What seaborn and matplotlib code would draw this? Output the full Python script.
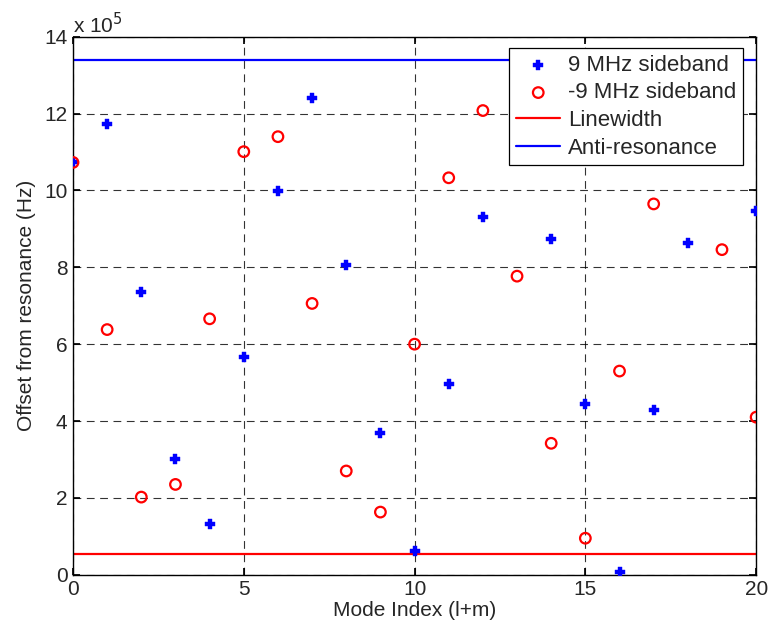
import numpy as np
import pandas as pd
import seaborn as sns
import matplotlib.pyplot as plt
from matplotlib.ticker import FuncFormatter

# values (Hz); points hidden by the legend are left out
mode_plus = [0, 1, 2, 3, 4, 5, 6, 7, 8, 9, 10, 11, 12, 14, 15, 16, 17, 18, 20]
offset_plus = [1073000, 1173000, 737000, 302000, 133000, 566000, 999000, 1241000,
               806000, 370000, 62000, 496000, 932000, 875000, 443000, 8000,
               429000, 863000, 946000]

mode_minus = [0, 1, 2, 3, 4, 5, 6, 7, 8, 9, 10, 11, 12, 13, 14, 15, 16, 17, 19, 20]
offset_minus = [1073000, 638000, 202000, 235000, 666000, 1101000, 1140000, 706000,
                270000, 163000, 600000, 1033000, 1208000, 777000, 342000, 95000,
                530000, 965000, 846000, 410000]

linewidth_hz = 53000
anti_resonance_hz = 1339000

plus = pd.DataFrame({'mode': mode_plus, 'offset': offset_plus})
minus = pd.DataFrame({'mode': mode_minus, 'offset': offset_minus})

fs = 15

sns.set_theme(style='white')
plt.rcParams['font.family'] = ['Liberation Sans', 'DejaVu Sans']
plt.rcParams['font.size'] = fs

fig = plt.figure(figsize=(7.7, 6.34), dpi=100)
ax = fig.add_axes([0.0948, 0.0935, 0.8872, 0.8485])

sns.scatterplot(data=plus, x='mode', y='offset', ax=ax, marker='P', s=42,
                color='#0000ff', edgecolor='#0000ff', linewidth=0.3,
                label='9 MHz sideband', zorder=3)
sns.scatterplot(data=minus, x='mode', y='offset', ax=ax, marker='o', s=58,
                facecolor='none', edgecolor='#ff0000', linewidth=1.6,
                label='-9 MHz sideband', zorder=3)
ax.axhline(linewidth_hz, color='#ff0000', lw=1.6, label='Linewidth', zorder=2)
ax.axhline(anti_resonance_hz, color='#0000ff', lw=1.6, label='Anti-resonance', zorder=2)

ax.set_xlim(0, 20)
ax.set_ylim(0, 1400000)
ax.set_xticks([0, 5, 10, 15, 20])
ax.set_yticks(np.arange(0, 1400001, 200000))
ax.yaxis.set_major_formatter(FuncFormatter(lambda v, p: f'{v / 1e5:g}'))
ax.text(0.0, 1.0, r'x 10$^5$', transform=ax.transAxes, fontsize=fs,
        ha='left', va='bottom')

ax.grid(True, color='black', linestyle=(0, (7, 5)), linewidth=0.8, alpha=0.8)
ax.tick_params(direction='in', length=5, color='black', labelsize=fs,
               top=True, right=True, bottom=True, left=True, pad=4)
for s in ax.spines.values():
    s.set_color('black')
    s.set_linewidth(1.0)

ax.set_xlabel('Mode Index (l+m)', fontsize=fs, labelpad=1)
ax.set_ylabel('Offset from resonance (Hz)', fontsize=fs, labelpad=6)

leg = ax.legend(loc='upper right', bbox_to_anchor=(0.981, 0.979), fontsize=16,
                frameon=True, fancybox=False, framealpha=1, edgecolor='black',
                borderpad=0.3, labelspacing=0.3, handlelength=2.0,
                handletextpad=0.35, borderaxespad=0)
leg.get_frame().set_linewidth(0.9)
leg.set_zorder(5)

fig.savefig('out.png', dpi=100)
